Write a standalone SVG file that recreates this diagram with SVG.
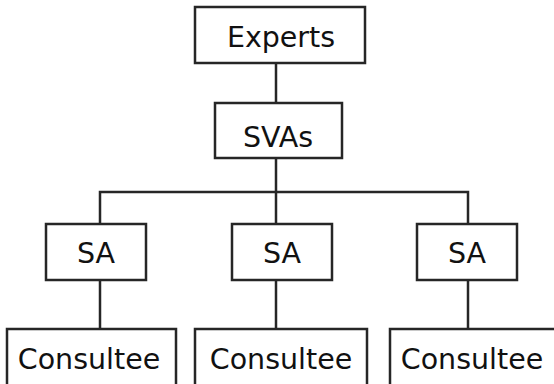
<svg xmlns="http://www.w3.org/2000/svg" width="554" height="384" viewBox="0 0 554 384">
<style>
rect.box{fill:#fff;stroke:#262626;stroke-width:2.5}
.conn line, .conn path{stroke:#262626;stroke-width:2.5;fill:none}
text{font-family:"DejaVu Sans",sans-serif;font-size:28.5px;fill:#111;text-anchor:middle}
</style>
<rect width="554" height="384" fill="#fff"/>
<g class="conn">
<line x1="276" y1="63" x2="276" y2="103"/>
<line x1="276" y1="158" x2="276" y2="224"/>
<path d="M100 224 V192 H468 V224"/>
<line x1="100" y1="280" x2="100" y2="329"/>
<line x1="276" y1="280" x2="276" y2="329"/>
<line x1="468" y1="280" x2="468" y2="329"/>
</g>
<g id="experts"><rect class="box" x="195" y="7" width="170" height="56"/><text x="281" y="47">Experts</text></g>
<g id="svas"><rect class="box" x="215" y="103" width="127" height="55"/><text x="278" y="147">SVAs</text></g>
<g id="sa1"><rect class="box" x="46" y="224" width="100" height="56"/><text x="96" y="263">SA</text></g>
<g id="sa2"><rect class="box" x="232" y="224" width="100" height="56"/><text x="282" y="263">SA</text></g>
<g id="sa3"><rect class="box" x="417" y="224" width="100" height="56"/><text x="467" y="263">SA</text></g>
<g id="consultee1"><rect class="box" x="7" y="329" width="169" height="70"/><text x="89" y="369">Consultee</text></g>
<g id="consultee2"><rect class="box" x="195" y="329" width="172" height="70"/><text x="281" y="369">Consultee</text></g>
<g id="consultee3"><rect class="box" x="390" y="329" width="166" height="70"/><text x="472" y="369">Consultee</text></g>
</svg>
